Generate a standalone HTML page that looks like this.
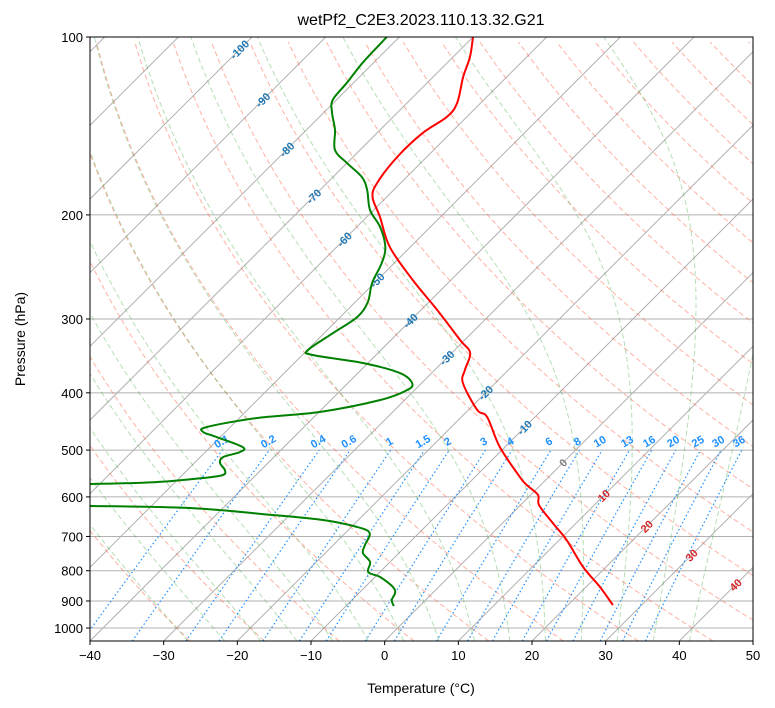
<!DOCTYPE html>
<html><head><meta charset="utf-8">
<style>
html,body{margin:0;padding:0;background:#fff;}
svg{display:block;font-family:"Liberation Sans","DejaVu Sans",sans-serif;}
</style></head>
<body>
<svg id="chart" width="775" height="708" viewBox="0 0 775 708" xmlns="http://www.w3.org/2000/svg">
<defs><clipPath id="plotclip"><rect x="90" y="37" width="663" height="604"/></clipPath></defs>
<text x="421" y="25" text-anchor="middle" font-size="16">wetPf2_C2E3.2023.110.13.32.G21</text>
<g id="plot" clip-path="url(#plotclip)"></g>
<rect x="90" y="37" width="663" height="604" fill="none" stroke="#000" stroke-width="1"/>
<g id="axes"></g>
<text x="421" y="693" text-anchor="middle" font-size="14">Temperature (°C)</text>
<text x="25" y="339" text-anchor="middle" font-size="14" transform="rotate(-90 25 339)">Pressure (hPa)</text>
</svg>
<script>
// ---- data ----
const tempP = [100,108.1,116.9,129.3,136.6,145.4,159.6,176.6,186.6,201.6,226.6,257.7,289.7,325.7,342.4,365.9,385,427.6,439.5,494.1,555.3,572.8,595.6,619.4,664.3,709.9,788.5,852.4,914.5];
const tempT = [-70.0,-67.7,-65.9,-63.2,-62.7,-63.8,-64.0,-63.2,-61.9,-58.2,-52.8,-45.2,-37.8,-30.6,-27.5,-25.9,-24.4,-18.8,-16.5,-10.7,-3.9,-1.9,1.0,2.5,6.8,11.0,16.9,21.9,26.1];
const dewP = [100,110.2,119.6,127.8,134.5,143.7,155.3,163.4,172.5,181.5,196.2,209.7,226.6,241.3,260.8,280.8,297.7,316.8,338.5,345.2,356.1,370.3,385,395.7,411.4,431,441.2,457,466,475.2,494.1,503.9,513.8,525.9,540.4,551,557.5,566.3,570.6,575.1,617,621.8,626.6,643.9,656.6,674.7,690.7,723.8,746.6,773.3,804,819.9,852.4,872.6,896.6,918.1];
const dewT = [-81.7,-81.5,-80.9,-80.5,-78.8,-76.1,-73.4,-70.0,-66.1,-63.6,-60.5,-56.8,-53.4,-51.7,-50.3,-48.3,-47.7,-48.8,-49.9,-48.6,-40.7,-34.3,-31.3,-31.0,-33.3,-39.9,-47.6,-53.2,-53.0,-50.5,-45.6,-45.3,-46.9,-46.5,-44.9,-44.5,-46.8,-52.5,-61.3,-86.8,-84.4,-58.3,-44.5,-32.3,-24.8,-19.2,-16.7,-15.7,-14.9,-12.7,-11.6,-9.3,-6.2,-5.1,-4.6,-3.5];
const xTicks = [-40,-30,-20,-10,0,10,20,30,40,50];
const yTicks = [100,200,300,400,500,600,700,800,900,1000];
const isoLabelT = [-100,-90,-80,-70,-60,-50,-40,-30,-20,-10,0,10,20,30,40];
const isoLabelP = [105,127.8,155,186,220,258,302,349,400,458,525,597,673,753,845];
const mixW = [0.1,0.2,0.4,0.6,1,1.5,2,3,4,6,8,10,13,16,20,25,30,36];
const mixLabels = ["0.1","0.2","0.4","0.6","1","1.5","2","3","4","6","8","10","13","16","20","25","30","36"];
const dryT0 = [];
for (let t=-30;t<=200;t+=10) dryT0.push(t);
const moistT0 = [-30,-25,-20,-15,-10,-5,0,5,10,15,20,25,30,35,40];

// ---- axis functions ----
const X0=90, X1=753, YB=641, TMIN=-40, TMAX=50;
const SX=(X1-X0)/(TMAX-TMIN);
function yp(p){return 37+591*Math.log10(p/100);}
function xp(T,p){return X0+(T-TMIN)*SX+(YB-yp(p));}
const NS="http://www.w3.org/2000/svg";
const plot=document.getElementById('plot');
const axes=document.getElementById('axes');
function mk(tag,attrs,parent){const e=document.createElementNS(NS,tag);for(const k in attrs)e.setAttribute(k,attrs[k]);parent.appendChild(e);return e;}
function pathFrom(ps,ts){let d='';for(let i=0;i<ps.length;i++){d+=(i?'L':'M')+xp(ts[i],ps[i]).toFixed(2)+','+yp(ps[i]).toFixed(2);}return d;}
function smoothFrom(ps,ts){
  const pts=ps.map((p,i)=>[xp(ts[i],p),yp(p)]);
  let d='M'+pts[0][0].toFixed(2)+','+pts[0][1].toFixed(2);
  for(let i=0;i<pts.length-1;i++){
    const p0=pts[Math.max(i-1,0)],p1=pts[i],p2=pts[i+1],p3=pts[Math.min(i+2,pts.length-1)];
    const c1=[p1[0]+(p2[0]-p0[0])/6,p1[1]+(p2[1]-p0[1])/6];
    const c2=[p2[0]-(p3[0]-p1[0])/6,p2[1]-(p3[1]-p1[1])/6];
    d+='C'+c1[0].toFixed(2)+','+c1[1].toFixed(2)+' '+c2[0].toFixed(2)+','+c2[1].toFixed(2)+' '+p2[0].toFixed(2)+','+p2[1].toFixed(2);
  }
  return d;
}
const PTOP=100, PBOT=1052;

yTicks.forEach(p=>{
  const l=mk('line',{x1:X0,x2:X1,y1:yp(p),y2:yp(p),stroke:'#b0b0b0','stroke-width':1},plot);
  
  
});
for(let T=-160;T<=50;T+=10){
  const l=mk('line',{x1:xp(T,PBOT),y1:yp(PBOT),x2:xp(T,PTOP),y2:yp(PTOP),stroke:'#b0b0b0','stroke-width':1},plot);
  
  
}
dryT0.forEach(t0=>{
  const th=t0+273.15; const ps=[],ts=[];
  for(let p=PBOT;p>=PTOP-1;p-=10){ps.push(p);ts.push(th*Math.pow(p/1000,0.2857)-273.15);}
  const e=mk('path',{d:pathFrom(ps,ts),fill:'none',stroke:'#ff6347','stroke-opacity':0.5,'stroke-width':1,'stroke-dasharray':'5,3'},plot);
  
  
});
function es(Tc){return 6.112*Math.exp(17.67*Tc/(Tc+243.5));}
function dTdp(T,p){const e=es(T-273.15);const rs=0.622*e/Math.max(p-e,1);const Rd=287.04,Cp=1005.7,Lv=2.501e6;
  return (Rd*T+Lv*rs)/(p*(Cp+Lv*Lv*rs*0.622/(Rd*T*T)));}
function integrate(T,p0,p1,dp){const out=[[p0,T]];let p=p0;const n=Math.round(Math.abs(p1-p0)/Math.abs(dp));const h=(p1-p0)/n;
  for(let i=0;i<n;i++){const k1=dTdp(T,p);const k2=dTdp(T+h*k1/2,p+h/2);T+=h*k2;p+=h;out.push([p,T]);}return out;}
moistT0.forEach(t0=>{
  const up=integrate(t0+273.15,1000,PTOP,5);const dn=integrate(t0+273.15,1000,PBOT,5).reverse();
  const all=dn.concat(up.slice(1));
  const e=mk('path',{d:pathFrom(all.map(a=>a[0]),all.map(a=>a[1]-273.15)),fill:'none',stroke:'#2ca02c','stroke-opacity':0.35,'stroke-width':1,'stroke-dasharray':'5,3'},plot);
  
  
});
function tdFromW(w,p){const e=w*p/(622+w);const l=Math.log(e/6.112);return 243.5*l/(17.67-l);}
mixW.forEach((w,i)=>{
  const ps=[],ts=[];
  for(let p=PBOT;p>=500;p-=10){ps.push(p);ts.push(tdFromW(w,p));}
  ps.push(500);ts.push(tdFromW(w,500));
  const e=mk('path',{d:pathFrom(ps,ts),fill:'none',stroke:'#1e90ff','stroke-width':1.2,'stroke-dasharray':'1.5,2.5'},plot);
  
  
  const lp=482, lx=xp(tdFromW(w,lp),lp)-6, ly=yp(lp)+4;
  const t=mk('text',{x:lx,y:ly,'text-anchor':'middle','font-size':11,'font-weight':'bold',fill:'#1e90ff',transform:`rotate(-30 ${lx} ${ly})`},plot);
  t.textContent=mixLabels[i];
  
  
});
isoLabelT.forEach((T,i)=>{
  const p=isoLabelP[i];const lx=xp(T,p), ly=yp(p)+4;
  const col=T<0?'#1f77b4':(T===0?'#7f7f7f':'#d62728');
  const t=mk('text',{x:lx,y:ly,'text-anchor':'middle','font-size':11,'font-weight':'bold',fill:col,transform:`rotate(-45 ${lx} ${ly-4})`},plot);
  t.textContent=String(T);
  
  
});
const tp=mk('path',{d:smoothFrom(tempP,tempT),fill:'none',stroke:'#ff0000','stroke-width':2,'stroke-linejoin':'round'},plot);


const dp=mk('path',{d:smoothFrom(dewP,dewT),fill:'none',stroke:'#008000','stroke-width':2,'stroke-linejoin':'round'},plot);


xTicks.forEach(T=>{
  const x=X0+(T-TMIN)*SX;
  const l=mk('line',{x1:x,x2:x,y1:YB,y2:YB+4,stroke:'#000'},axes);
  
  
  const t=mk('text',{x:x,y:YB+19,'text-anchor':'middle','font-size':13},axes);
  t.textContent=(T<0?'\u2212'+(-T):String(T));
  
  
});
yTicks.forEach(p=>{
  const y=yp(p);
  const l=mk('line',{x1:X0-4,x2:X0,y1:y,y2:y,stroke:'#000'},axes);
  
  
  const t=mk('text',{x:X0-7,y:y+5,'text-anchor':'end','font-size':13},axes);
  t.textContent=String(p);
  
  
});
</script>
</body></html>
